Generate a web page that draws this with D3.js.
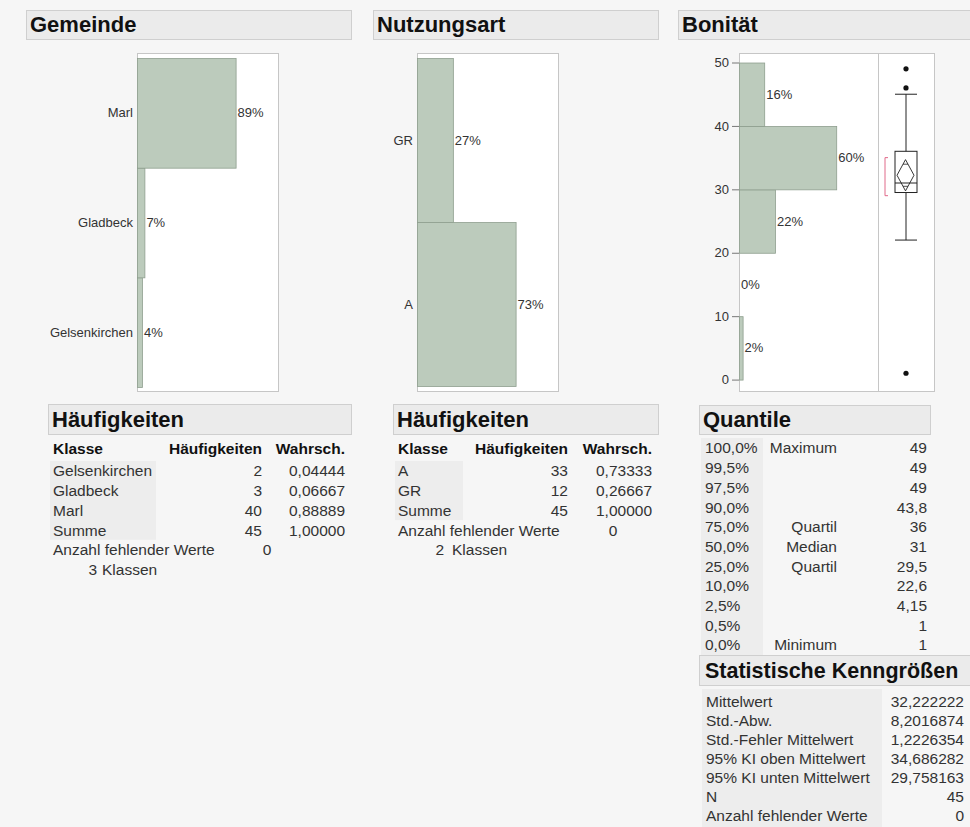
<!DOCTYPE html>
<html>
<head>
<meta charset="utf-8">
<script src="https://cdn.jsdelivr.net/npm/d3@7"></script>
<style>
  html, body { margin: 0; padding: 0; background: #f6f6f6; }
  svg { display: block; font-family: "Liberation Sans", Arial, sans-serif; }
</style>
</head>
<body>
<svg id="chart" width="970" height="827"></svg>
<script>
// ---- Data ----
const gemeindeCats = ["Gelsenkirchen", "Gladbeck", "Marl"];
const gemeindeCounts = [2, 3, 40];

const nutzungCats = ["A", "GR"];
const nutzungCounts = [33, 12];

const bonitaetBinEdges = [0, 10, 20, 30, 40, 50];
const bonitaetBinCounts = [1, 0, 10, 27, 7];
const bonitaetTicks = [0, 10, 20, 30, 40, 50];

const bonitaetQuartiles = [29.5, 31, 36];       // Q1, Median, Q3
const bonitaetWhiskers = [22, 45];
const bonitaetOutliers = [1, 46, 49];
const bonitaetMean = 32.222222;
const bonitaetMeanCI = [29.758163, 34.686282];
const bonitaetShortestHalf = [29, 35];

const quantileLevels = ["100,0%", "99,5%", "97,5%", "90,0%", "75,0%", "50,0%", "25,0%", "10,0%", "2,5%", "0,5%", "0,0%"];
const quantileNames = ["Maximum", "", "", "", "Quartil", "Median", "Quartil", "", "", "", "Minimum"];
const quantileValues = [49, 49, 49, 43.8, 36, 31, 29.5, 22.6, 4.15, 1, 1];

const statNames = ["Mittelwert", "Std.-Abw.", "Std.-Fehler Mittelwert", "95% KI oben Mittelwert", "95% KI unten Mittelwert", "N", "Anzahl fehlender Werte"];
const statValues = [32.222222, 8.2016874, 1.2226354, 34.686282, 29.758163, 45, 0];

// ---- Helpers ----
const svg = d3.select("#chart");
const BAR_FILL = "#bccbbc", BAR_STROKE = "#8e9e8e";
const FRAME_STROKE = "#c6c6c6";
const TXT = "#333";
const TABLE_FONT = 15.5;
const LABEL_FONT = 13;
const pct = d3.format(".0%");
const de = v => String(v).replace(".", ",");
const prob = v => d3.format(".5f")(v).replace(".", ",");
const HEADROOM = 1.43;

svg.append("rect").attr("width", 970).attr("height", 827).attr("fill", "#f6f6f6");

function headerBar(x, y, w, h, label, size, inset) {
  svg.append("rect").attr("x", x + 0.5).attr("y", y + 0.5).attr("width", w).attr("height", h)
    .attr("fill", "#ebebeb").attr("stroke", "#cfcfcf");
  svg.append("text").attr("x", x + (inset || 4)).attr("y", y + h / 2 + size * 0.36)
    .attr("font-size", size).attr("font-weight", "bold").attr("fill", "#111").text(label);
}

function frame(x0, y0, x1, y1) {
  svg.append("rect").attr("x", x0 + 0.5).attr("y", y0 + 0.5).attr("width", x1 - x0).attr("height", y1 - y0)
    .attr("fill", "#fff").attr("stroke", FRAME_STROKE);
}

// Horizontal bar chart of category shares
function barPanel(cats, counts, fx0, fx1, fy0, fy1, by0, by1) {
  const total = d3.sum(counts);
  const data = cats.map((c, i) => ({ cat: c, frac: counts[i] / total }));
  frame(fx0, fy0, fx1, fy1);
  const x = d3.scaleLinear().domain([0, d3.max(data, d => d.frac) * HEADROOM]).range([fx0, fx1]);
  const y = d3.scaleBand().domain(cats.slice().reverse()).range([by0, by1]);
  const g = svg.append("g");
  g.selectAll("rect.bar").data(data).join("rect")
    .attr("x", x(0) + 0.5).attr("y", d => y(d.cat) + 0.5)
    .attr("width", d => x(d.frac) - x(0)).attr("height", y.bandwidth())
    .attr("fill", BAR_FILL).attr("stroke", BAR_STROKE).attr("stroke-width", 0.8);
  g.selectAll("text.cat").data(data).join("text")
    .attr("x", fx0 - 4).attr("y", d => y(d.cat) + y.bandwidth() / 2).attr("dy", "0.35em")
    .attr("text-anchor", "end").attr("font-size", LABEL_FONT).attr("fill", TXT).text(d => d.cat);
  g.selectAll("text.pct").data(data).join("text")
    .attr("x", d => x(d.frac) + 2).attr("y", d => y(d.cat) + y.bandwidth() / 2).attr("dy", "0.35em")
    .attr("font-size", LABEL_FONT).attr("fill", TXT).text(d => pct(d.frac));
}

// ---- Top headers ----
headerBar(26, 10, 325, 29, "Gemeinde", 22);
headerBar(373, 10, 285, 29, "Nutzungsart", 22);
headerBar(678, 10, 300, 29, "Bonität", 22);

// ---- Categorical panels ----
barPanel(gemeindeCats, gemeindeCounts, 137, 278, 53, 391, 58, 387);
barPanel(nutzungCats, nutzungCounts, 417, 558, 53, 391, 58, 386);

// ---- Bonität histogram ----
const hx0 = 739, hx1 = 878, hy0 = 53, hy1 = 391;
frame(hx0, hy0, hx1, hy1);
const bTotal = d3.sum(bonitaetBinCounts);
const bins = bonitaetBinCounts.map((c, i) => ({ lo: bonitaetBinEdges[i], hi: bonitaetBinEdges[i + 1], frac: c / bTotal }));
const yB = d3.scaleLinear().domain([-1.8, 51.5]).range([hy1, hy0]);
const xH = d3.scaleLinear().domain([0, d3.max(bins, d => d.frac) * HEADROOM]).range([hx0, hx1]);

const hg = svg.append("g");
hg.selectAll("rect").data(bins.filter(d => d.frac > 0)).join("rect")
  .attr("x", xH(0) + 0.5).attr("y", d => yB(d.hi) + 0.5)
  .attr("width", d => xH(d.frac) - xH(0)).attr("height", d => yB(d.lo) - yB(d.hi))
  .attr("fill", BAR_FILL).attr("stroke", BAR_STROKE).attr("stroke-width", 0.8);
hg.selectAll("text").data(bins).join("text")
  .attr("x", d => xH(d.frac) + 2).attr("y", d => yB((d.lo + d.hi) / 2)).attr("dy", "0.35em")
  .attr("font-size", LABEL_FONT).attr("fill", TXT).text(d => pct(d.frac));

const axis = svg.append("g").attr("transform", `translate(${hx0},0)`)
  .call(d3.axisLeft(yB).tickValues(bonitaetTicks).tickSize(7).tickPadding(3));
axis.select(".domain").remove();
axis.selectAll("line").attr("stroke", "#777");
axis.selectAll("text").attr("font-size", LABEL_FONT).attr("fill", TXT).attr("font-family", "Liberation Sans, Arial, sans-serif");

// ---- Bonität box plot ----
const bx0 = 878, bx1 = 934;
frame(bx0, hy0, bx1, hy1);
const cx = 906, boxL = 895, boxR = 917;
const bp = svg.append("g").attr("stroke", "#222").attr("fill", "none");
bp.append("line").attr("x1", cx).attr("x2", cx).attr("y1", yB(bonitaetWhiskers[1])).attr("y2", yB(bonitaetQuartiles[2]));
bp.append("line").attr("x1", cx).attr("x2", cx).attr("y1", yB(bonitaetQuartiles[0])).attr("y2", yB(bonitaetWhiskers[0]));
bonitaetWhiskers.forEach(w => {
  bp.append("line").attr("x1", boxL).attr("x2", boxR).attr("y1", yB(w)).attr("y2", yB(w));
});
bp.append("rect").attr("x", boxL).attr("y", yB(bonitaetQuartiles[2]))
  .attr("width", boxR - boxL).attr("height", yB(bonitaetQuartiles[0]) - yB(bonitaetQuartiles[2]));
bp.append("line").attr("x1", boxL).attr("x2", boxR)
  .attr("y1", yB(bonitaetQuartiles[1])).attr("y2", yB(bonitaetQuartiles[1]));
// mean diamond with overlap marks
const dL = boxL + 2, dR = boxR - 3, dC = (dL + dR) / 2;
bp.append("path").attr("stroke-width", 0.9).attr("d", d3.line()([
  [dC, yB(bonitaetMeanCI[1])], [dR, yB(bonitaetMean)], [dC, yB(bonitaetMeanCI[0])], [dL, yB(bonitaetMean)], [dC, yB(bonitaetMeanCI[1])]
]));
const half = (bonitaetMeanCI[1] - bonitaetMeanCI[0]) / 2 / Math.SQRT2;
[bonitaetMean + half, bonitaetMean - half].forEach(v => {
  const frac = 1 - Math.abs(v - bonitaetMean) / ((bonitaetMeanCI[1] - bonitaetMeanCI[0]) / 2);
  const w = (dR - dL) / 2 * frac;
  bp.append("line").attr("stroke-width", 0.8).attr("x1", dC - w).attr("x2", dC + w).attr("y1", yB(v)).attr("y2", yB(v));
});
// shortest half bracket
const sh = svg.append("g").attr("stroke", "#e06a8a").attr("stroke-width", 1);
sh.append("line").attr("x1", 885).attr("x2", 885).attr("y1", yB(bonitaetShortestHalf[1])).attr("y2", yB(bonitaetShortestHalf[0]));
bonitaetShortestHalf.forEach(v => sh.append("line").attr("x1", 885).attr("x2", 888).attr("y1", yB(v)).attr("y2", yB(v)));
// outliers
svg.append("g").selectAll("circle").data(bonitaetOutliers).join("circle")
  .attr("cx", cx).attr("cy", d => yB(d)).attr("r", 2.6).attr("fill", "#111");

// ---- Frequency tables ----
function freqTable(cfg) {
  const { cats, counts, x0, x1, labelX, countR, probR, missX, nClassR, nClassL, colBg } = cfg;
  const total = d3.sum(counts);
  headerBar(x0, 404, x1 - x0, 30, "Häufigkeiten", 22);
  svg.append("rect").attr("x", colBg[0]).attr("y", 461).attr("width", colBg[1] - colBg[0])
    .attr("height", (cats.length + 1) * 19.7).attr("fill", "#ededed");
  const g = svg.append("g").attr("font-size", TABLE_FONT).attr("fill", TXT);
  const hy = 449;
  g.append("text").attr("x", labelX).attr("y", hy).attr("dy", "0.35em").attr("font-weight", "bold").attr("fill", "#111").text("Klasse");
  g.append("text").attr("x", countR).attr("y", hy).attr("dy", "0.35em").attr("text-anchor", "end").attr("font-weight", "bold").attr("fill", "#111").text("Häufigkeiten");
  g.append("text").attr("x", probR).attr("y", hy).attr("dy", "0.35em").attr("text-anchor", "end").attr("font-weight", "bold").attr("fill", "#111").text("Wahrsch.");
  const rows = cats.map((c, i) => ({ label: c, n: counts[i], p: counts[i] / total }))
    .concat([{ label: "Summe", n: total, p: 1 }]);
  rows.forEach((r, i) => {
    const yy = 471 + i * 19.7;
    g.append("text").attr("x", labelX).attr("y", yy).attr("dy", "0.35em").text(r.label);
    g.append("text").attr("x", countR).attr("y", yy).attr("dy", "0.35em").attr("text-anchor", "end").text(r.n);
    g.append("text").attr("x", probR).attr("y", yy).attr("dy", "0.35em").attr("text-anchor", "end").text(prob(r.p));
  });
  const ym = 471 + rows.length * 19.7;
  g.append("text").attr("x", labelX).attr("y", ym).attr("dy", "0.35em").text("Anzahl fehlender Werte");
  g.append("text").attr("x", missX).attr("y", ym).attr("dy", "0.35em").attr("text-anchor", "middle").text(0);
  g.append("text").attr("x", nClassR).attr("y", ym + 19.7).attr("dy", "0.35em").attr("text-anchor", "end").text(cats.length);
  g.append("text").attr("x", nClassL).attr("y", ym + 19.7).attr("dy", "0.35em").text("Klassen");
}

freqTable({ cats: gemeindeCats, counts: gemeindeCounts, x0: 48, x1: 351, labelX: 53, countR: 262, probR: 345,
  missX: 267, nClassR: 97, nClassL: 102, colBg: [50, 156] });
freqTable({ cats: nutzungCats, counts: nutzungCounts, x0: 393, x1: 658, labelX: 398, countR: 568, probR: 652,
  missX: 613, nClassR: 444, nClassL: 452, colBg: [395, 463] });

// ---- Quantile table ----
headerBar(699, 405, 231, 29, "Quantile", 22);
svg.append("rect").attr("x", 701).attr("y", 438).attr("width", 62).attr("height", 217).attr("fill", "#ededed");
const qg = svg.append("g").attr("font-size", TABLE_FONT).attr("fill", TXT);
quantileLevels.forEach((lv, i) => {
  const yy = 448 + i * 19.7;
  qg.append("text").attr("x", 705).attr("y", yy).attr("dy", "0.35em").text(lv);
  if (quantileNames[i]) qg.append("text").attr("x", 837).attr("y", yy).attr("dy", "0.35em").attr("text-anchor", "end").text(quantileNames[i]);
  qg.append("text").attr("x", 927).attr("y", yy).attr("dy", "0.35em").attr("text-anchor", "end").text(de(quantileValues[i]));
});

// ---- Summary statistics ----
headerBar(699, 655, 280, 30, "Statistische Kenngrößen", 21.5, 6);
svg.append("rect").attr("x", 702).attr("y", 689).attr("width", 180).attr("height", 138).attr("fill", "#ededed");
const sg = svg.append("g").attr("font-size", TABLE_FONT).attr("fill", TXT);
statNames.forEach((nm, i) => {
  const yy = 701.5 + i * 19;
  sg.append("text").attr("x", 706).attr("y", yy).attr("dy", "0.35em").text(nm);
  sg.append("text").attr("x", 964).attr("y", yy).attr("dy", "0.35em").attr("text-anchor", "end").text(de(statValues[i]));
});
</script>
</body>
</html>
